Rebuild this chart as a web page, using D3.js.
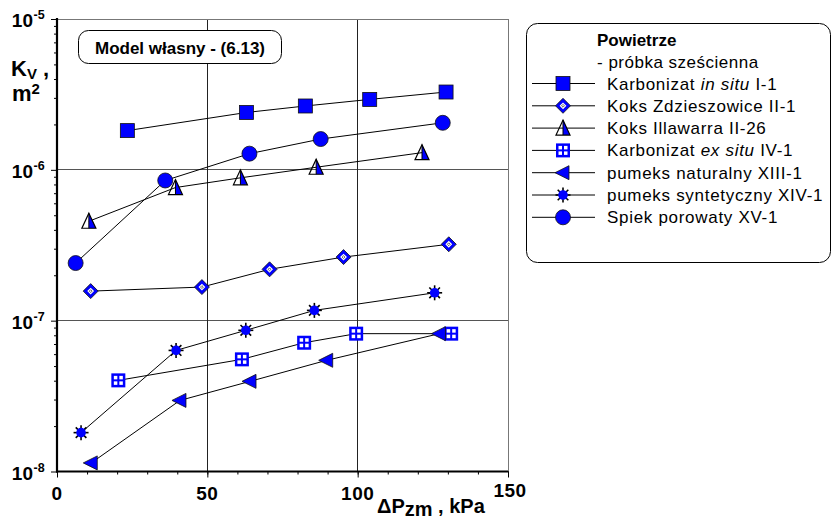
<!DOCTYPE html>
<html>
<head>
<meta charset="utf-8">
<script src="https://cdn.jsdelivr.net/npm/d3@7"></script>
<style>
  body { margin: 0; background: #fff; }
  svg text { font-family: "Liberation Sans", Arial, sans-serif; }
  .b { font-weight: bold; }
</style>
</head>
<body>
<div id="chart"></div>
<script>
// pressure drop dPzm [kPa] and permeability Kv [m2]
const karbonizatInSitu = {x: [23.4, 63, 82.6, 104, 129.4], y: [1.82e-6, 2.40e-6, 2.65e-6, 2.93e-6, 3.28e-6]}
const koksZdzieszowice = {x: [11.2, 48.2, 70.7, 95.3, 130.3], y: [1.57e-7, 1.67e-7, 2.19e-7, 2.64e-7, 3.21e-7]}
const koksIllawarra = {x: [10.6, 39.4, 61, 86.2, 121.4], y: [4.56e-7, 7.63e-7, 8.85e-7, 1.04e-6, 1.30e-6]}
const karbonizatExSitu = {x: [20.4, 61.5, 82.2, 99.5, 131.1], y: [4.02e-8, 5.54e-8, 7.14e-8, 8.20e-8, 8.20e-8]}
const pumeksNaturalny = {x: [11.4, 40.9, 64.2, 89.7, 127.2], y: [1.14e-8, 2.96e-8, 3.96e-8, 5.46e-8, 8.20e-8]}
const pumeksSyntetyczny = {x: [8, 39.6, 62.8, 85.6, 125.6], y: [1.81e-8, 6.35e-8, 8.63e-8, 1.17e-7, 1.53e-7]}
const spiekPorowaty = {x: [6.2, 36, 64, 87.7, 128.3], y: [2.41e-7, 8.5e-7, 1.28e-6, 1.60e-6, 2.05e-6]}

const seriesNames = [
  ["Karbonizat ", "in situ", " I-1"],
  ["Koks Zdzieszowice II-1"],
  ["Koks Illawarra II-26"],
  ["Karbonizat ", "ex situ", " IV-1"],
  ["pumeks naturalny XIII-1"],
  ["pumeks syntetyczny XIV-1"],
  ["Spiek porowaty XV-1"],
]
const seriesData = [karbonizatInSitu, koksZdzieszowice, koksIllawarra, karbonizatExSitu,
  pumeksNaturalny, pumeksSyntetyczny, spiekPorowaty]
const markerTypes = ["square", "diamond", "halfTriangle", "gridSquare", "leftTriangle", "star", "circle"]

const xTicks = [0, 50, 100, 150]
const yTicks = [1e-8, 1e-7, 1e-6, 1e-5]
const xMinor = d3.range(0, 151, 10)

const titleText = "Model własny - (6.13)"
const legendTitle = ["Powietrze", "- próbka sześcienna"]

const W = 832, H = 523
const BLUE = "#0000ff"

const svg = d3.select("#chart").append("svg")
  .attr("width", W)
  .attr("height", H)

const x = d3.scaleLinear().domain([0, 150]).range([57, 508])
const y = d3.scaleLog().domain([1e-8, 1e-5]).range([471.5, 19])

// grid + frame
const grid = svg.append("g").attr("stroke", "#555").attr("stroke-width", 1).attr("shape-rendering", "crispEdges")
grid.selectAll("line.h")
  .data([1e-7, 1e-6])
  .join("line")
    .attr("x1", x(0)).attr("x2", x(150))
    .attr("y1", d => y(d)).attr("y2", d => y(d))
grid.selectAll("line.v")
  .data([50, 100])
  .join("line")
    .attr("class", "v")
    .attr("stroke", "#222")
    .attr("x1", d => x(d)).attr("x2", d => x(d))
    .attr("y1", y(1e-5)).attr("y2", y(1e-8))
grid.append("line")
  .attr("stroke", "#777")
  .attr("x1", x(0)).attr("x2", x(150)).attr("y1", y(1e-5)).attr("y2", y(1e-5))
grid.append("line")
  .attr("stroke", "#777")
  .attr("x1", x(150)).attr("x2", x(150)).attr("y1", y(1e-5)).attr("y2", y(1e-8))

// axes
const yMinor = []
for (let e = -8; e < -5; e++) for (let k = 2; k < 10; k++) yMinor.push(k * Math.pow(10, e))

const yAxis = svg.append("g")
  .attr("transform", `translate(${x(0)},0)`)
  .call(d3.axisLeft(y).tickValues(yMinor).tickSize(3).tickFormat(""))
yAxis.select(".domain").remove()
yAxis.selectAll("line").attr("stroke", "#000")
svg.append("g")
  .attr("transform", `translate(${x(0)},0)`)
  .call(d3.axisLeft(y).tickValues(yTicks).tickSize(6).tickFormat(""))
  .call(g => g.select(".domain").remove())

const xAxis = svg.append("g")
  .attr("transform", `translate(0,${y(1e-8)})`)
  .call(d3.axisBottom(x).tickValues(xMinor).tickSize(3).tickFormat(""))
xAxis.select(".domain").remove()
svg.append("g")
  .attr("transform", `translate(0,${y(1e-8)})`)
  .call(d3.axisBottom(x).tickValues(xTicks).tickSize(6).tickFormat(""))
  .call(g => g.select(".domain").remove())

svg.append("line")
  .attr("stroke", "#000").attr("stroke-width", 2.2)
  .attr("x1", x(0)).attr("x2", x(0)).attr("y1", y(1e-5) - 1).attr("y2", y(1e-8) + 1)
svg.append("line")
  .attr("stroke", "#000").attr("stroke-width", 2.2)
  .attr("x1", x(0) - 1).attr("x2", x(150)).attr("y1", y(1e-8)).attr("y2", y(1e-8))

// tick labels
svg.append("g")
  .selectAll("text")
  .data(xTicks)
  .join("text")
    .attr("class", "b")
    .attr("font-size", 19)
    .attr("text-anchor", "middle")
    .attr("x", d => x(d) + (d == 150 ? 2 : 0))
    .attr("y", d => d == 150 ? 497 : 500)
    .style("letter-spacing", "0.5px")
    .text(d => d)

const yLab = svg.append("g")
yTicks.forEach(d => {
  yLab.append("text")
    .attr("class", "b")
    .attr("text-anchor", "end")
    .attr("x", 33)
    .attr("y", y(d) + 8)
    .attr("font-size", 19)
    .text("10")
  yLab.append("text")
    .attr("class", "b")
    .attr("x", 33.5)
    .attr("y", y(d) + 0)
    .attr("font-size", 12.5)
    .text(Math.round(Math.log10(d)))
})

// axis titles
const kv = svg.append("text")
  .attr("class", "b")
  .attr("x", 11).attr("y", 76)
  .attr("font-size", 22)
kv.append("tspan").text("K")
kv.append("tspan").attr("font-size", 15).attr("dy", 3).text("V")
kv.append("tspan").attr("dy", -3).text(" ,")
const m2 = svg.append("text")
  .attr("class", "b")
  .attr("x", 12).attr("y", 101)
  .attr("font-size", 22)
m2.append("tspan").text("m")
m2.append("tspan").attr("font-size", 15).attr("dy", -7).text("2")

const xt = svg.append("text")
  .attr("class", "b")
  .attr("x", 377).attr("y", 513)
  .attr("font-size", 20)
xt.append("tspan").text("ΔP")
xt.append("tspan").attr("dy", 3).text("zm")
xt.append("tspan").attr("dy", -3).text(" , kPa")

// title box
svg.append("rect")
  .attr("x", 78.5).attr("y", 30.5).attr("width", 203).attr("height", 33).attr("rx", 10)
  .attr("fill", "#fff").attr("stroke", "#000")
svg.append("text")
  .attr("class", "b")
  .attr("x", 180).attr("y", 53.5)
  .attr("text-anchor", "middle")
  .attr("font-size", 17)
  .text(titleText)

// markers
function drawMarker(g, type) {
  if (type == "square") {
    g.append("rect").attr("x", -7).attr("y", -7).attr("width", 14).attr("height", 14)
      .attr("fill", BLUE).attr("stroke", "#111").attr("stroke-width", 0.8)
  } else if (type == "diamond") {
    g.append("path").attr("d", "M0,-7.5L7.5,0L0,7.5L-7.5,0Z").attr("fill", BLUE).attr("stroke", "#111").attr("stroke-width", 0.8)
    g.append("path").attr("d", "M0,-3.4L3.4,0L0,3.4L-3.4,0Z").attr("fill", "#fff")
    g.append("path").attr("d", "M0,-1.4L1.4,0L0,1.4L-1.4,0Z").attr("fill", "none").attr("stroke", "#000").attr("stroke-width", 0.6)
  } else if (type == "halfTriangle") {
    g.append("path").attr("d", "M0,-8L7,7L0,7Z").attr("fill", BLUE)
    g.append("path").attr("d", "M0,-8L7,7L-7,7Z").attr("fill", "none").attr("stroke", "#000").attr("stroke-width", 1.2)
    g.append("line").attr("x1", 0).attr("x2", 0).attr("y1", -8).attr("y2", 7).attr("stroke", "#000").attr("stroke-width", 1)
  } else if (type == "gridSquare") {
    g.append("rect").attr("x", -7).attr("y", -7).attr("width", 14).attr("height", 14).attr("fill", BLUE)
    for (const dx of [-4.5, 1]) for (const dy of [-4.5, 1]) {
      g.append("rect").attr("x", dx).attr("y", dy).attr("width", 3.5).attr("height", 3.5).attr("fill", "#fff")
    }
  } else if (type == "leftTriangle") {
    g.append("path").attr("d", "M-8,0L6,-7L6,7Z").attr("fill", BLUE).attr("stroke", "#111").attr("stroke-width", 0.8)
  } else if (type == "star") {
    const star = g.append("g").attr("stroke", "#000").attr("stroke-width", 1.6)
    for (let a = 0; a < 8; a++) {
      const t = a * Math.PI / 4
      star.append("line").attr("x1", 0).attr("y1", 0).attr("x2", 7.5 * Math.cos(t)).attr("y2", 7.5 * Math.sin(t))
    }
    g.append("circle").attr("r", 4.8).attr("fill", BLUE)
  } else if (type == "circle") {
    g.append("circle").attr("r", 7.5).attr("fill", BLUE).attr("stroke", "#111").attr("stroke-width", 0.8)
  }
}

const line = d3.line()
  .x(d => x(d[0]))
  .y(d => y(d[1]))

const plot = svg.append("g")
seriesData.forEach((s, i) => {
  const pts = s.x.map((v, j) => [v, s.y[j]])
  plot.append("path")
    .attr("d", line(pts))
    .attr("fill", "none")
    .attr("stroke", "#000")
    .attr("stroke-width", 1)
})
seriesData.forEach((s, i) => {
  s.x.forEach((v, j) => {
    drawMarker(plot.append("g").attr("transform", `translate(${x(v)},${y(s.y[j])})`), markerTypes[i])
  })
})

// legend
const legend = svg.append("g")
legend.append("rect")
  .attr("x", 526.5).attr("y", 23.5).attr("width", 304).attr("height", 239).attr("rx", 11)
  .attr("fill", "#fff").attr("stroke", "#000")
legend.append("text")
  .attr("class", "b")
  .attr("x", 597).attr("y", 46)
  .attr("font-size", 17)
  .text(legendTitle[0])
legend.append("text")
  .attr("x", 597).attr("y", 68)
  .attr("font-size", 17).style("letter-spacing", "0.5px")
  .text(legendTitle[1])

seriesNames.forEach((parts, i) => {
  const ly = 83.5 + i * 22.3
  legend.append("line")
    .attr("x1", 532).attr("x2", 595).attr("y1", ly).attr("y2", ly)
    .attr("stroke", "#000").attr("stroke-width", 1)
  drawMarker(legend.append("g").attr("transform", `translate(563,${ly})`), markerTypes[i])
  const t = legend.append("text")
    .attr("x", 607).attr("y", ly + 6)
    .attr("font-size", 17).style("letter-spacing", "0.7px")
  parts.forEach((p, k) => {
    t.append("tspan").style("font-style", k == 1 ? "italic" : "normal").text(p)
  })
})
</script>
</body>
</html>
